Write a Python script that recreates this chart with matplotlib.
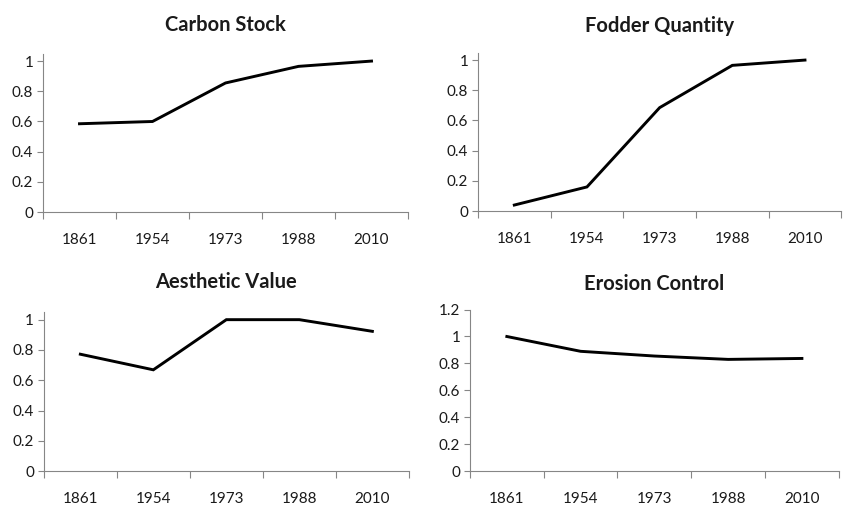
import matplotlib
matplotlib.use("Agg")
import matplotlib.pyplot as plt
import numpy as np

plt.rcParams["font.family"] = ["Lato", "DejaVu Sans"]

years = ["1861", "1954", "1973", "1988", "2010"]

carbon_stock = [0.585, 0.60, 0.855, 0.965, 1.0]
fodder_quantity = [0.04, 0.16, 0.685, 0.965, 1.0]
aesthetic_value = [0.772, 0.669, 1.0, 1.0, 0.923]
erosion_control = [1.0, 0.89, 0.855, 0.83, 0.837]

titles = ["Carbon Stock", "Fodder Quantity", "Aesthetic Value", "Erosion Control"]
series = [carbon_stock, fodder_quantity, aesthetic_value, erosion_control]
y_ticks = [
    [0, 0.2, 0.4, 0.6, 0.8, 1],
    [0, 0.2, 0.4, 0.6, 0.8, 1],
    [0, 0.2, 0.4, 0.6, 0.8, 1],
    [0, 0.2, 0.4, 0.6, 0.8, 1, 1.2],
]
y_tops = [1.05, 1.05, 1.05, 1.2]

rects = [
    [0.051, 0.580, 0.433, 0.314],
    [0.567, 0.582, 0.431, 0.314],
    [0.052, 0.067, 0.433, 0.315],
    [0.5575, 0.067, 0.4375, 0.320],
]
title_pads = [16, 15, 17, 14]

AXIS_GREY = "#868686"
TEXT = "#1a1a1a"

fig = plt.figure(figsize=(8.43, 5.05), dpi=100)

for title, vals, yt, top, rect, tpad in zip(titles, series, y_ticks, y_tops, rects, title_pads):
    ax = fig.add_axes(rect)
    x = np.arange(len(years))
    ax.plot(x, vals, color="black", linewidth=2.1, solid_joinstyle="miter")
    ax.set_xlim(-0.5, len(years) - 0.5)
    ax.set_ylim(0, top)

    ax.set_xticks(x)
    ax.set_xticklabels(years)
    ax.set_xticks(np.arange(-0.5, len(years)), minor=True)
    ax.tick_params(axis="x", which="major", length=0, pad=15, labelsize=11, labelcolor=TEXT)
    ax.tick_params(axis="x", which="minor", length=5, width=0.8, color=AXIS_GREY, direction="out")

    ax.set_yticks(yt)
    ax.set_yticklabels([f"{v:g}" for v in yt])
    ax.tick_params(axis="y", length=4, width=0.8, color=AXIS_GREY, pad=3,
                   labelsize=11, labelcolor=TEXT)

    for side in ("top", "right"):
        ax.spines[side].set_visible(False)
    for side in ("left", "bottom"):
        ax.spines[side].set_color(AXIS_GREY)
        ax.spines[side].set_linewidth(0.8)

    ax.set_title(title, fontsize=14.5, fontweight="bold", color=TEXT, pad=tpad)

fig.savefig("out.png", dpi=100)
